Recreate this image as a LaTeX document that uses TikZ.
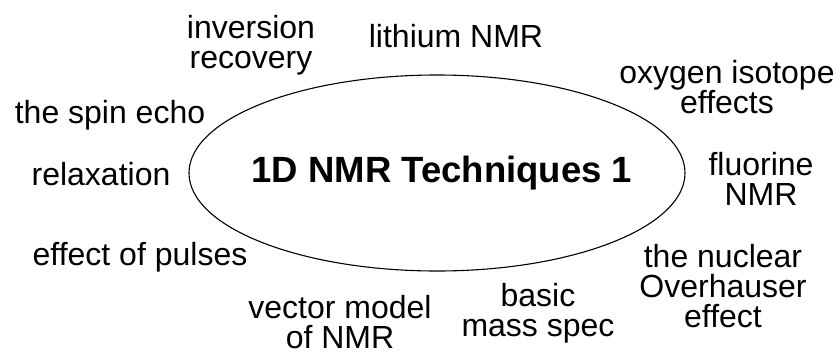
\documentclass[tikz,border=0pt]{standalone}
\usepackage{fontspec}
\setmainfont{Liberation Sans}
\begin{document}
\begin{tikzpicture}[x=1pt,y=-1pt,
  lbl/.style={font=\fontsize{32}{30}\selectfont, inner sep=0pt, align=center, anchor=base},
  ttl/.style={font=\fontsize{36.5}{36.5}\selectfont\bfseries, inner sep=0pt, anchor=base},
  oval/.style={draw=black, line width=1.1pt}]
\useasboundingbox (0,0) rectangle (840,351);
\draw[oval] (437,173) ellipse [x radius=248, y radius=98];
\node[ttl] (title) at (442,182) {1D NMR Techniques 1};
\node[lbl] (inv) at (251,68) {inversion\\recovery};
\node[lbl] (li) at (456,47) {lithium NMR};
\node[lbl] (oxy) at (727,113) {oxygen isotope\\effects};
\node[lbl] (spin) at (110,123) {the spin echo};
\node[lbl] (relax) at (101,185) {relaxation};
\node[lbl] (fluor) at (761,205) {fluorine\\NMR};
\node[lbl] (pulse) at (140,265) {effect of pulses};
\node[lbl] (noe) at (723,327) {the nuclear\\Overhauser\\effect};
\node[lbl] (vec) at (340,348) {vector model\\of NMR};
\node[lbl] (mass) at (538,336) {basic\\mass spec};
\end{tikzpicture}
\end{document}
